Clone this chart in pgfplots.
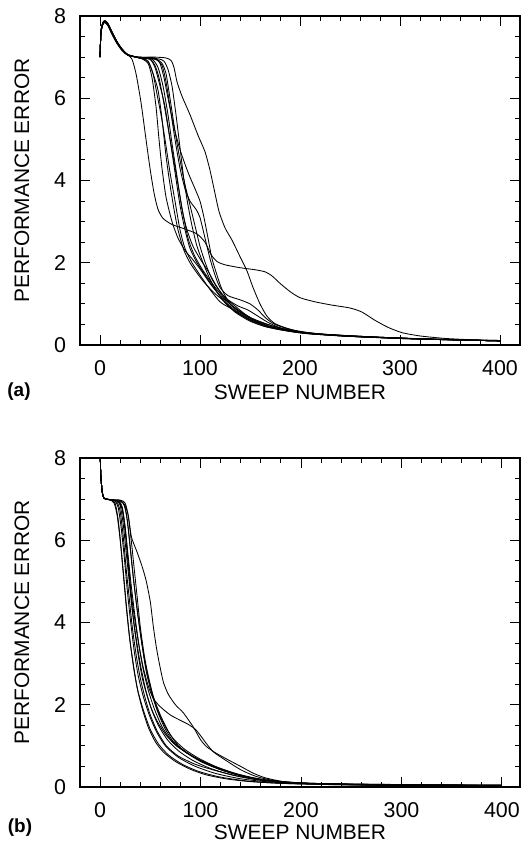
\documentclass[border=0pt]{standalone}
\usepackage{pgfplots}
\pgfplotsset{compat=1.18}
\usepackage{fontspec}
\setmainfont{Liberation Sans}
\begin{document}
\begin{tikzpicture}
\useasboundingbox (0,0) rectangle (521bp,-844bp);
\pgfplotsset{
  panel/.style={
    scale only axis, width=440bp, height=329bp,
    ymin=0, ymax=8,
    axis line style={line width=1.2bp},
    every tick/.style={black, line width=0.9bp},
    tick align=inside,
    major tick length=10bp, minor tick length=5bp,
    xtick={0,100,200,300,400}, minor x tick num=4,
    ytick={0,2,4,6,8}, minor y tick num=3,
    xtick pos=both, ytick pos=both,
    /pgf/number format/assume math mode=true,
    tick label style={font=\fontsize{21.5}{24}\selectfont},
    xticklabel style={anchor=center, yshift=-23bp},
    yticklabel style={anchor=center, xshift=-20bp},
    label style={font=\fontsize{21}{24}\selectfont, inner sep=0pt},
    xlabel={SWEEP NUMBER},
    ylabel={PERFORMANCE ERROR},
    ylabel style={at={(axis description cs:-0.132,0.5)}, anchor=center, rotate=0},
    clip=true,
  },
  crv/.style={black, line width=0.85bp, smooth, tension=0.4, no markers},
}
% ---------------- panel (a) ----------------
\begin{axis}[panel, at={(80bp,-345bp)}, anchor=south west, xmin=-20, xmax=420,
  xlabel style={at={(axis description cs:0.5,-0.143)}, anchor=center}]
\addplot[crv] coordinates {(0,7.0) (1,7.6) (3,7.82) (5,7.86) (8,7.78) (12,7.58) (17,7.35) (22,7.18) (28,7.05) (32,6.95) (36,6.6) (41,5.9) (46,5.0) (50,4.3) (54,3.7) (58,3.3) (63,3.08) (72,2.93) (85,2.82) (97,2.7) (105,2.5) (111,2.2) (117,2.03) (125,1.95) (140,1.88) (155,1.83) (165,1.78) (172,1.68) (180,1.5) (190,1.3) (200,1.15) (215,1.05) (232,0.97) (250,0.9) (262,0.8) (275,0.6) (288,0.43) (302,0.3) (320,0.22) (345,0.16) (370,0.13) (400,0.11)};
\addplot[crv] coordinates {(0,7.0) (1,7.65) (3,7.85) (5,7.88) (8,7.8) (12,7.6) (17,7.36) (22,7.18) (28,7.05) (40,7.0) (55,7.0) (66,6.98) (71,6.92) (74,6.75) (77,6.4) (82,6.05) (90,5.6) (98,5.1) (105,4.7) (110,4.25) (114,3.8) (119,3.25) (125,2.85) (132,2.55) (140,2.15) (147,1.8) (153,1.4) (160,1.0) (167,0.7) (175,0.52) (188,0.4) (205,0.3) (240,0.22) (300,0.17) (350,0.13) (400,0.1)};
\addplot[crv] coordinates {(0,7.0) (1,7.6) (3,7.8) (5,7.84) (8,7.76) (12,7.55) (17,7.33) (22,7.16) (28,7.04) (40,7.0) (55,6.98) (60,6.85) (64,6.5) (68,6.0) (74,5.3) (80,4.75) (88,4.2) (95,3.8) (100,3.5) (104,3.1) (108,2.6) (112,2.1) (117,1.7) (122,1.35) (130,1.0) (140,0.8) (155,0.6) (170,0.45) (190,0.35) (220,0.26) (270,0.2) (330,0.14) (400,0.1)};
\addplot[crv] coordinates {(0,7.0) (1,7.62) (3,7.83) (5,7.87) (8,7.8) (12,7.6) (17,7.37) (22,7.2) (28,7.06) (40,6.98) (50,6.95) (55,6.75) (60,6.3) (65,5.8) (70,5.0) (75,4.2) (80,3.4) (85,2.8) (90,2.35) (97,2.0) (105,1.7) (115,1.35) (125,1.05) (135,0.8) (150,0.58) (165,0.45) (185,0.35) (210,0.27) (260,0.2) (320,0.15) (400,0.1)};
\addplot[crv] coordinates {(0,7.0) (1,7.58) (3,7.8) (5,7.85) (8,7.77) (12,7.57) (17,7.34) (22,7.17) (28,7.05) (40,6.98) (48,6.9) (53,6.6) (57,6.1) (61,5.6) (65,5.0) (70,4.2) (75,3.5) (80,2.8) (85,2.35) (92,2.0) (100,1.7) (110,1.35) (120,1.05) (130,0.9) (140,0.75) (150,0.6) (165,0.45) (185,0.35) (210,0.27) (260,0.2) (320,0.15) (400,0.1)};
\addplot[crv] coordinates {(0,7.0) (1,7.63) (3,7.84) (5,7.88) (8,7.81) (12,7.61) (17,7.38) (22,7.2) (28,7.06) (40,6.98) (52,6.95) (58,6.75) (63,6.3) (68,5.6) (72,4.9) (77,4.1) (82,3.3) (87,2.8) (93,2.4) (100,2.1) (108,1.8) (116,1.45) (125,1.15) (135,0.95) (145,0.75) (155,0.6) (170,0.48) (190,0.36) (220,0.27) (270,0.2) (330,0.14) (400,0.1)};
\addplot[crv] coordinates {(0,7.0) (1,7.6) (3,7.81) (5,7.85) (8,7.78) (12,7.58) (17,7.35) (22,7.18) (28,7.05) (40,6.98) (55,6.95) (62,6.8) (66,6.4) (70,5.8) (75,5.0) (80,4.3) (85,3.8) (90,3.5) (96,3.3) (100,3.1) (105,2.6) (110,2.1) (115,1.7) (120,1.4) (128,1.2) (140,1.1) (150,1.0) (158,0.85) (166,0.65) (175,0.5) (190,0.38) (215,0.28) (260,0.21) (320,0.15) (400,0.1)};
\addplot[crv] coordinates {(0,7.0) (1,7.64) (3,7.85) (5,7.89) (8,7.82) (12,7.62) (17,7.38) (22,7.2) (28,7.06) (40,6.98) (48,6.9) (53,6.6) (58,6.2) (62,5.5) (66,4.6) (70,3.9) (74,3.3) (78,2.8) (84,2.3) (90,2.0) (97,1.75) (105,1.5) (115,1.25) (125,1.05) (135,0.85) (148,0.65) (162,0.5) (180,0.38) (205,0.29) (250,0.21) (310,0.15) (400,0.1)};
\addplot[crv] coordinates {(0,7.0) (1,7.6) (3,7.82) (5,7.86) (8,7.79) (12,7.59) (17,7.36) (22,7.19) (28,7.05) (40,6.98) (48,6.85) (52,6.5) (56,5.8) (59,5.0) (62,4.3) (66,3.6) (72,3.0) (78,2.6) (85,2.3) (92,2.1) (100,1.85) (110,1.5) (120,1.2) (130,1.0) (140,0.82) (152,0.65) (168,0.5) (185,0.38) (210,0.28) (260,0.2) (320,0.15) (400,0.1)};
\addplot[crv] coordinates {(0,7.0) (1,7.62) (3,7.83) (5,7.87) (8,7.8) (12,7.6) (17,7.36) (22,7.19) (28,7.05) (40,6.98) (56,6.95) (62,6.85) (66,6.6) (70,6.0) (75,5.2) (80,4.5) (85,3.9) (90,3.4) (95,2.9) (100,2.4) (106,1.95) (112,1.6) (120,1.3) (128,1.1) (138,0.95) (148,0.85) (158,0.7) (168,0.55) (180,0.42) (200,0.32) (240,0.23) (300,0.16) (400,0.11)};
\addplot[crv] coordinates {(0,7.0) (1,7.61) (3,7.82) (5,7.86) (8,7.79) (12,7.59) (17,7.35) (22,7.18) (28,7.05) (40,6.98) (58,6.96) (64,6.9) (68,6.7) (72,6.3) (76,5.6) (80,4.8) (84,4.0) (88,3.4) (92,2.9) (97,2.4) (103,2.0) (110,1.6) (118,1.25) (126,1.0) (135,0.82) (148,0.64) (165,0.48) (185,0.37) (215,0.27) (270,0.2) (330,0.14) (400,0.1)};
\addplot[crv] coordinates {(0,7.0) (1,7.63) (3,7.84) (5,7.88) (8,7.8) (12,7.6) (17,7.37) (22,7.19) (28,7.06) (40,6.98) (50,6.95) (55,6.8) (59,6.5) (63,6.0) (68,5.3) (73,4.6) (78,3.9) (83,3.2) (88,2.6) (94,2.2) (102,1.85) (112,1.5) (122,1.2) (132,0.95) (145,0.72) (160,0.52) (178,0.4) (200,0.3) (250,0.22) (310,0.15) (400,0.1)};
\end{axis}
% ---------------- panel (b) ----------------
\begin{axis}[panel, at={(80bp,-787bp)}, anchor=south west, xmin=-20, xmax=418,
  xlabel style={at={(axis description cs:0.5,-0.138)}, anchor=center}]
\addplot[crv] coordinates {(0,8.6) (0.5,7.7) (2,7.2) (4,7.02) (12,6.98) (20,6.95) (25,6.85) (28,6.6) (31,6.1) (33,5.95) (37,5.7) (42,5.35) (46,5.0) (50,4.5) (53,3.9) (56,3.4) (59,3.0) (63,2.55) (68,2.25) (75,2.0) (83,1.8) (93,1.45) (100,1.15) (106,0.98) (115,0.83) (126,0.68) (140,0.5) (153,0.33) (165,0.22) (183,0.13) (210,0.09) (260,0.07) (330,0.05) (400,0.04)};
\addplot[crv] coordinates {(0,8.6) (0.5,7.7) (2,7.2) (4,7.02) (12,6.98) (18,6.95) (22,6.8) (25,6.3) (28,5.5) (31,4.7) (35,4.0) (39,3.4) (43,2.9) (48,2.45) (53,2.15) (60,1.95) (70,1.75) (80,1.62) (88,1.52) (95,1.4) (100,1.25) (106,1.05) (113,0.85) (125,0.65) (140,0.42) (155,0.26) (175,0.15) (210,0.09) (300,0.06) (400,0.04)};
\addplot[crv] coordinates {(0,8.6) (0.5,7.7) (2,7.2) (4,7.02) (10,6.98) (14,6.9) (17,6.6) (20,6.0) (23,5.2) (26,4.4) (29,3.7) (33,3.0) (37,2.4) (42,1.9) (48,1.45) (55,1.1) (63,0.85) (75,0.62) (90,0.43) (105,0.3) (125,0.2) (150,0.13) (190,0.08) (260,0.05) (400,0.03)};
\addplot[crv] coordinates {(0,8.6) (0.5,7.7) (2,7.2) (4,7.02) (10,6.98) (15,6.95) (18,6.8) (21,6.3) (24,5.6) (27,4.8) (30,4.1) (34,3.3) (38,2.7) (43,2.2) (49,1.75) (56,1.35) (65,1.0) (78,0.72) (95,0.5) (115,0.33) (140,0.2) (170,0.12) (220,0.07) (300,0.05) (400,0.03)};
\addplot[crv] coordinates {(0,8.6) (0.5,7.7) (2,7.2) (4,7.02) (12,6.98) (17,6.95) (20,6.85) (23,6.4) (26,5.7) (29,5.0) (32,4.3) (36,3.6) (40,3.0) (45,2.4) (51,1.9) (58,1.5) (67,1.15) (78,0.88) (92,0.65) (110,0.45) (130,0.3) (155,0.18) (190,0.1) (260,0.06) (400,0.04)};
\addplot[crv] coordinates {(0,8.6) (0.5,7.7) (2,7.2) (4,7.02) (12,6.98) (19,6.95) (22,6.8) (25,6.3) (28,5.6) (31,4.9) (35,4.1) (39,3.4) (43,2.85) (48,2.35) (54,1.9) (62,1.45) (72,1.1) (85,0.85) (100,0.65) (118,0.46) (138,0.3) (160,0.18) (195,0.1) (260,0.06) (400,0.04)};
\addplot[crv] coordinates {(0,8.6) (0.5,7.7) (2,7.2) (4,7.02) (13,6.98) (20,6.97) (24,6.85) (27,6.5) (30,5.8) (33,5.1) (37,4.3) (41,3.6) (45,3.0) (50,2.45) (56,1.95) (63,1.55) (72,1.2) (84,0.92) (98,0.7) (115,0.5) (135,0.33) (158,0.2) (190,0.11) (260,0.06) (400,0.04)};
\addplot[crv] coordinates {(0,8.6) (0.5,7.7) (2,7.2) (4,7.02) (13,6.98) (21,6.97) (25,6.9) (28,6.6) (31,6.0) (34,5.3) (37,4.6) (40,3.9) (44,3.2) (48,2.7) (53,2.2) (60,1.75) (68,1.35) (78,1.0) (92,0.75) (110,0.52) (130,0.35) (155,0.2) (185,0.11) (250,0.06) (400,0.04)};
\addplot[crv] coordinates {(0,8.6) (0.5,7.7) (2,7.2) (4,7.02) (11,6.98) (15,6.9) (18,6.5) (21,5.8) (24,5.0) (27,4.2) (30,3.5) (34,2.8) (38,2.3) (44,1.8) (50,1.4) (58,1.05) (68,0.78) (82,0.55) (98,0.38) (118,0.25) (145,0.15) (180,0.09) (250,0.05) (400,0.03)};
\addplot[crv] coordinates {(0,8.6) (0.5,7.7) (2,7.2) (4,7.02) (12,6.98) (17,6.92) (20,6.7) (23,6.1) (26,5.3) (29,4.6) (32,3.9) (36,3.2) (40,2.65) (45,2.15) (50,1.75) (57,1.35) (66,1.0) (78,0.75) (95,0.55) (115,0.4) (138,0.26) (165,0.15) (200,0.09) (270,0.05) (400,0.04)};
\addplot[crv] coordinates {(0,8.6) (0.5,7.7) (2,7.2) (4,7.02) (12,6.98) (18,6.95) (22,6.75) (25,6.2) (28,5.4) (31,4.6) (34,3.9) (38,3.2) (42,2.65) (47,2.2) (52,1.85) (58,1.55) (66,1.25) (76,1.0) (88,0.8) (103,0.6) (120,0.42) (140,0.27) (165,0.16) (200,0.09) (270,0.05) (400,0.04)};
\addplot[crv] coordinates {(0,8.6) (0.5,7.7) (2,7.2) (4,7.02) (14,6.98) (21,6.96) (25,6.8) (28,6.3) (31,5.6) (34,4.9) (38,4.1) (42,3.4) (46,2.8) (51,2.3) (57,1.85) (64,1.45) (73,1.1) (85,0.85) (100,0.62) (120,0.42) (142,0.27) (168,0.16) (205,0.09) (280,0.05) (400,0.04)};
\end{axis}
\node[font=\fontsize{19}{22}\selectfont\bfseries, anchor=center, inner sep=0pt] at (19bp,-392bp) {(a)};
\node[font=\fontsize{19}{22}\selectfont\bfseries, anchor=center, inner sep=0pt] at (20bp,-828bp) {(b)};
\end{tikzpicture}
\end{document}
